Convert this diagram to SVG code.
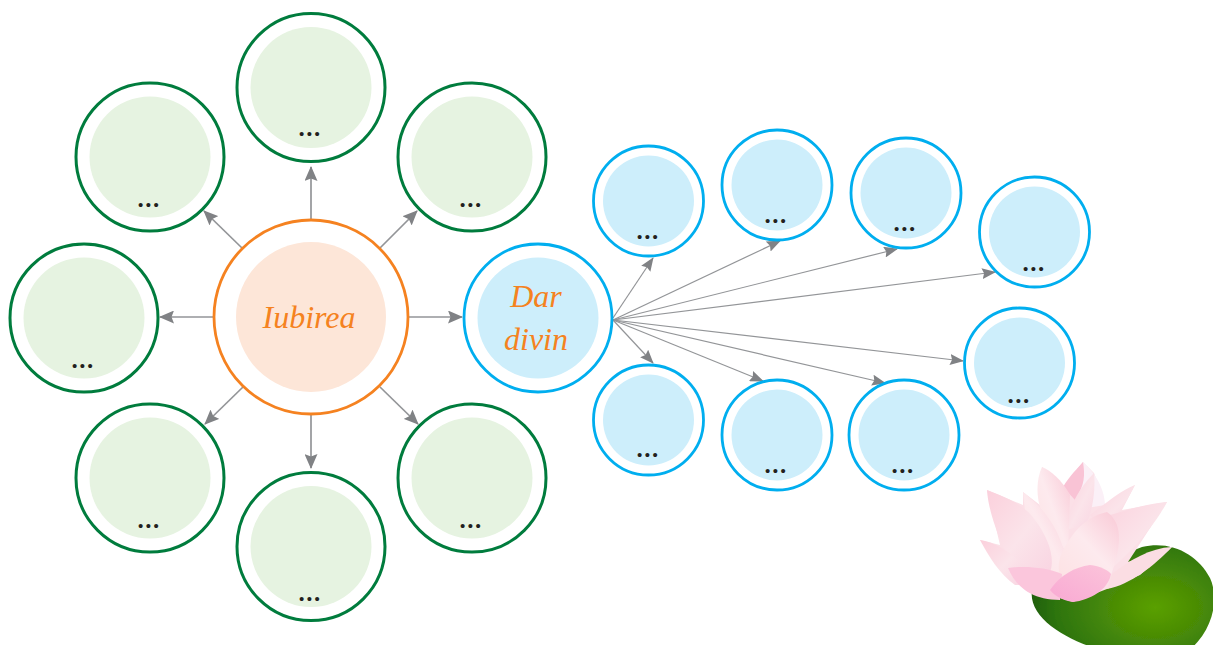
<svg xmlns="http://www.w3.org/2000/svg" width="1213" height="645" viewBox="0 0 1213 645">
<style>
.g{fill:#fff;stroke:#007c3d;stroke-width:3}
.gi{fill:#e6f3e1}
.b{fill:#fff;stroke:#00aeef;stroke-width:2.800}
.bi{fill:#cdeefb}
.d{font-family:"Liberation Serif",serif;font-size:25px;font-weight:bold;letter-spacing:1.500px;fill:#231f20;text-anchor:middle}
.o{font-family:"Liberation Serif",serif;font-style:italic;fill:#f58220;text-anchor:middle}
.c line{stroke:#939598;fill:none}
.t line{stroke-width:1.700;marker-end:url(#a)}
.th line{stroke-width:1.200;marker-end:url(#s)}
</style>
<defs>
<marker id="a" viewBox="0 0 15 13" refX="14" refY="6.500" markerUnits="userSpaceOnUse" markerWidth="15" markerHeight="13" orient="auto"><path d="M0 0L15 6.500L0 13L2.500 6.500Z" fill="#808285"/></marker>
<marker id="s" viewBox="0 0 14 11" refX="13" refY="5.500" markerUnits="userSpaceOnUse" markerWidth="14" markerHeight="11" orient="auto"><path d="M0 0L14 5.500L0 11L2 5.500Z" fill="#808285"/></marker>
<radialGradient id="leaf" gradientUnits="userSpaceOnUse" cx="1155" cy="608" r="125" gradientTransform="translate(0 200) scale(1 .67)"><stop offset="0" stop-color="#5aa000"/><stop offset=".35" stop-color="#4a8c06"/><stop offset=".8" stop-color="#2d7410"/><stop offset="1" stop-color="#1f5e0c"/></radialGradient>
<linearGradient id="p1" x1="0" y1="0" x2="1" y2="1"><stop offset="0" stop-color="#fbd0dc"/><stop offset=".55" stop-color="#fbe4ea"/><stop offset="1" stop-color="#f9d5e2"/></linearGradient>
<linearGradient id="p2" x1="1" y1="0" x2="0" y2="1"><stop offset="0" stop-color="#f9c9d6"/><stop offset=".5" stop-color="#fdeaee"/><stop offset="1" stop-color="#fde2e4"/></linearGradient>
<linearGradient id="p3" x1="1" y1="0" x2="0" y2="1"><stop offset="0" stop-color="#fbc4da"/><stop offset="1" stop-color="#f9a9d3"/></linearGradient>
<filter id="soft" x="-5%" y="-5%" width="110%" height="110%"><feGaussianBlur stdDeviation=".7"/></filter>
</defs>

<g id="lily" filter="url(#soft)">
<path d="M1032 590C1045 575 1110 560 1142 547C1172 540 1198 555 1210 578C1218 595 1216 625 1192 648C1170 660 1125 656 1095 648C1060 637 1028 615 1032 590Z" fill="url(#leaf)"/>
<path d="M980 540L1000 545L987 490L1023 505L1023 492L1040 505L1042 467L1063 487L1083 462L1094 473L1105 505L1135 485L1122 510L1167 502L1128 562L1172 547L1140 575L1107 589L1073 602L1040 592L1012 580Z" fill="#fbe0e7"/>
<path d="M1083 462C1092 470 1104 485 1105 505L1075 510Z" fill="#fbf0f7"/>
<path d="M1063 487C1070 475 1078 468 1083 462C1085 475 1085 485 1075 500Z" fill="#f9c3d5"/>
<path d="M1094 473C1096 490 1092 515 1085 525L1066 530C1068 505 1082 485 1094 473Z" fill="url(#p1)"/>
<path d="M1135 485C1125 505 1115 520 1100 530L1090 515C1110 500 1122 490 1135 485Z" fill="url(#p1)"/>
<path d="M1167 502C1155 525 1130 555 1100 578L1095 520C1125 510 1150 503 1167 502Z" fill="url(#p1)"/>
<path d="M1042 467C1050 470 1062 480 1070 495L1068 555L1045 520C1035 500 1036 480 1042 467Z" fill="url(#p2)"/>
<path d="M1023 492C1040 505 1065 530 1068 575L1035 570C1030 545 1025 515 1023 492Z" fill="url(#p2)"/>
<path d="M987 490C1005 497 1025 505 1035 520C1050 540 1055 560 1050 572L1015 570C1000 545 988 510 987 490Z" fill="url(#p1)"/>
<path d="M980 540C995 542 1010 552 1025 566L1025 585L1015 585C1000 575 988 555 980 540Z" fill="url(#p1)"/>
<path d="M1107 512C1125 525 1120 550 1110 578L1060 575C1055 560 1065 545 1075 532C1085 520 1097 514 1107 512Z" fill="url(#p2)"/>
<path d="M1172 547C1155 565 1130 585 1107 589L1112 574C1130 560 1150 548 1172 547Z" fill="#fbdde3"/>
<path d="M1008 568C1025 566 1045 567 1062 574L1060 600C1030 600 1015 585 1008 568Z" fill="#fbc6dc"/>
<path d="M1050 590C1060 575 1075 567 1090 565C1100 566 1108 570 1111 574C1108 590 1090 600 1073 602C1062 600 1055 596 1050 590Z" fill="url(#p3)"/>
</g>

<g id="connectors" class="c">
<g class="t">
<line x1="311" y1="220" x2="311" y2="167"/>
<line x1="242" y1="248" x2="204" y2="211"/>
<line x1="380" y1="248" x2="417" y2="211"/>
<line x1="214" y1="317" x2="160" y2="317"/>
<line x1="408" y1="317" x2="462" y2="317"/>
<line x1="243" y1="387" x2="205" y2="424"/>
<line x1="380" y1="387" x2="418" y2="424"/>
<line x1="311" y1="415" x2="311" y2="468"/>
</g>
<g class="th">
<line x1="613" y1="318" x2="653" y2="258"/>
<line x1="613" y1="320" x2="780" y2="241"/>
<line x1="613" y1="320" x2="897" y2="249"/>
<line x1="613" y1="320" x2="995" y2="272"/>
<line x1="613" y1="320" x2="963" y2="361"/>
<line x1="613" y1="320" x2="885" y2="383"/>
<line x1="613" y1="320" x2="763" y2="381"/>
<line x1="613" y1="320" x2="653" y2="363"/>
</g>
</g>

<g id="center-love"><circle cx="311" cy="317" r="97" fill="#fff" stroke="#f58220" stroke-width="2.800"/><circle cx="311" cy="317" r="75" fill="#fde6d8"/><text class="o" x="309" y="328" font-size="32">Iubirea</text></g>
<g id="gift"><circle cx="538" cy="318" r="74" class="b"/><circle cx="538" cy="318" r="60.500" class="bi"/><text class="o" x="536" y="307" font-size="32">Dar</text><text class="o" x="536" y="350" font-size="32">divin</text></g>

<g id="g1"><circle cx="311" cy="87.500" r="74" class="g"/><circle cx="311" cy="87.500" r="60.500" class="gi"/><text class="d" x="310" y="136">...</text></g>
<g id="g2"><circle cx="150" cy="157" r="74" class="g"/><circle cx="150" cy="157" r="60.500" class="gi"/><text class="d" x="149" y="207">...</text></g>
<g id="g3"><circle cx="472" cy="157" r="74" class="g"/><circle cx="472" cy="157" r="60.500" class="gi"/><text class="d" x="471" y="207">...</text></g>
<g id="g4"><circle cx="84" cy="318" r="74" class="g"/><circle cx="84" cy="318" r="60.500" class="gi"/><text class="d" x="83" y="368">...</text></g>
<g id="g5"><circle cx="150" cy="478" r="74" class="g"/><circle cx="150" cy="478" r="60.500" class="gi"/><text class="d" x="149" y="528">...</text></g>
<g id="g6"><circle cx="472" cy="478" r="74" class="g"/><circle cx="472" cy="478" r="60.500" class="gi"/><text class="d" x="471" y="528">...</text></g>
<g id="g7"><circle cx="311" cy="546.500" r="74" class="g"/><circle cx="311" cy="546.500" r="60.500" class="gi"/><text class="d" x="310" y="601">...</text></g>

<g id="b1"><circle cx="648.500" cy="201" r="55" class="b"/><circle cx="648.500" cy="201" r="45.500" class="bi"/><text class="d" x="648" y="239">...</text></g>
<g id="b2"><circle cx="777" cy="185" r="55" class="b"/><circle cx="777" cy="185" r="45.500" class="bi"/><text class="d" x="776" y="223">...</text></g>
<g id="b3"><circle cx="906" cy="193" r="55" class="b"/><circle cx="906" cy="193" r="45.500" class="bi"/><text class="d" x="905" y="231">...</text></g>
<g id="b4"><circle cx="1034.500" cy="232" r="55" class="b"/><circle cx="1034.500" cy="232" r="45.500" class="bi"/><text class="d" x="1034" y="271">...</text></g>
<g id="b5"><circle cx="1019.500" cy="363" r="55" class="b"/><circle cx="1019.500" cy="363" r="45.500" class="bi"/><text class="d" x="1019" y="403">...</text></g>
<g id="b6"><circle cx="648.500" cy="420" r="55" class="b"/><circle cx="648.500" cy="420" r="45.500" class="bi"/><text class="d" x="648" y="457">...</text></g>
<g id="b7"><circle cx="777" cy="435" r="55" class="b"/><circle cx="777" cy="435" r="45.500" class="bi"/><text class="d" x="776" y="473">...</text></g>
<g id="b8"><circle cx="904" cy="435" r="55" class="b"/><circle cx="904" cy="435" r="45.500" class="bi"/><text class="d" x="903" y="473">...</text></g>
</svg>
